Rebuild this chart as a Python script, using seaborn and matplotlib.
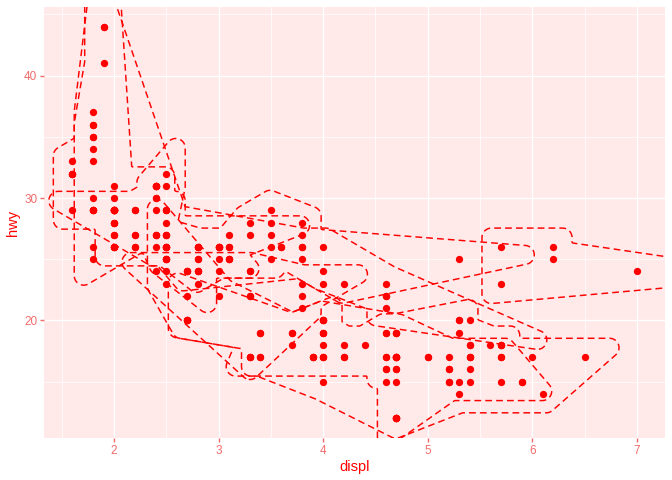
import numpy as np
import pandas as pd
import matplotlib
matplotlib.use("Agg")
import matplotlib.pyplot as plt
import seaborn as sns
from matplotlib.path import Path
from collections import deque

# ---------------- data: mpg rows (displ, hwy) by class ----------------
twoseater_displ = [5.7, 5.7, 6.2, 6.2, 7.0]
twoseater_hwy = [26, 23, 26, 25, 24]

compact_displ = [1.8, 1.8, 2.0, 2.0, 2.8, 2.8, 3.1,
                 1.8, 1.8, 2.0, 2.0, 2.8, 2.8, 3.1, 3.1,
                 2.4, 2.4,
                 2.5, 2.5, 2.5, 2.5,
                 2.2, 2.2, 2.4, 2.4, 3.0, 3.0, 3.3,
                 1.8, 1.8, 1.8, 1.8, 1.8,
                 2.0, 2.0, 2.0, 2.0, 2.8,
                 1.9, 2.0, 2.0, 2.0, 2.0, 2.5, 2.5, 2.8, 2.8]
compact_hwy = [29, 29, 31, 30, 26, 26, 27,
               26, 25, 28, 27, 25, 25, 25, 25,
               29, 27,
               25, 27, 25, 27,
               27, 29, 31, 31, 26, 26, 27,
               30, 33, 35, 37, 35,
               29, 26, 29, 29, 24,
               44, 29, 26, 29, 29, 29, 29, 23, 24]

midsize_displ = [2.8, 3.1, 4.2,
                 2.4, 2.4, 3.1, 3.5, 3.6,
                 2.4, 2.4, 2.4, 2.4, 2.5, 2.5, 3.3,
                 2.5, 2.5, 3.5, 3.5,
                 3.0, 3.0, 3.5,
                 3.1, 3.8, 3.8, 3.8, 5.3,
                 2.2, 2.2, 2.4, 2.4, 3.0, 3.0, 3.5,
                 1.8, 1.8, 2.0, 2.0, 2.8, 2.8, 3.6]
midsize_hwy = [24, 25, 23,
               27, 30, 26, 29, 26,
               26, 27, 30, 31, 26, 26, 28,
               31, 32, 27, 26,
               26, 25, 25,
               26, 26, 27, 28, 25,
               29, 27, 31, 31, 26, 26, 28,
               29, 29, 28, 29, 26, 26, 26]

minivan_displ = [2.4, 3.0, 3.3, 3.3, 3.3, 3.3, 3.3, 3.8, 3.8, 3.8, 4.0]
minivan_hwy = [24, 24, 22, 22, 24, 24, 17, 22, 21, 23, 23]

pickup_displ = [3.7, 3.7, 3.9, 3.9, 4.7, 4.7, 4.7, 5.2, 5.2,
                4.7, 4.7, 4.7, 4.7, 4.7, 4.7, 5.2, 5.2, 5.7, 5.9,
                4.2, 4.2, 4.6, 4.6, 4.6, 5.4, 5.4,
                2.7, 2.7, 2.7, 3.4, 3.4, 4.0, 4.0]
pickup_hwy = [19, 18, 17, 17, 19, 19, 12, 17, 15,
              16, 12, 17, 17, 16, 12, 15, 16, 17, 15,
              17, 17, 16, 16, 17, 15, 17,
              20, 20, 22, 17, 19, 18, 20]

subcompact_displ = [1.6, 1.6, 1.6, 1.6, 1.6, 1.8, 1.8, 1.8, 2.0,
                    2.0, 2.0, 2.0, 2.0, 2.7, 2.7, 2.7,
                    3.8, 3.8, 4.0, 4.0, 4.6, 4.6, 4.6, 4.6, 5.4,
                    1.9, 1.9, 2.0, 2.0, 2.5, 2.5,
                    2.2, 2.2, 2.5, 2.5]
subcompact_hwy = [33, 32, 32, 29, 32, 34, 36, 36, 29,
                  29, 26, 28, 27, 24, 24, 24,
                  26, 25, 26, 24, 21, 22, 23, 22, 20,
                  44, 41, 29, 26, 28, 29,
                  26, 26, 26, 26]

suv_displ = [5.3, 5.3, 5.3, 5.7, 6.0,
             5.3, 5.3, 5.7, 6.5,
             3.9, 4.7, 4.7, 4.7, 5.2, 5.7, 5.9,
             4.6, 5.4, 5.4,
             4.0, 4.0, 4.0, 4.0, 4.6, 5.0,
             3.0, 3.7, 4.0, 4.7, 4.7, 4.7, 5.7, 6.1,
             4.0, 4.2, 4.4, 4.6,
             5.4, 5.4, 5.4,
             4.0, 4.0, 4.6, 5.0,
             3.3, 3.3, 4.0, 5.6,
             2.5, 2.5, 2.5, 2.5, 2.5, 2.5,
             2.7, 2.7, 3.4, 3.4, 4.0, 4.7,
             4.7, 5.7]
suv_hwy = [20, 15, 20, 17, 17,
           19, 14, 15, 17,
           17, 17, 12, 17, 16, 18, 15,
           17, 17, 18,
           17, 19, 19, 17, 19, 17,
           22, 19, 20, 17, 12, 19, 18, 14,
           15, 18, 18, 15,
           17, 16, 18,
           17, 19, 19, 17,
           17, 17, 20, 18,
           25, 24, 27, 25, 26, 23,
           20, 20, 19, 17, 20, 17,
           15, 18]

class_names = ["2seater", "compact", "midsize", "minivan", "pickup", "subcompact", "suv"]
class_displ = [twoseater_displ, compact_displ, midsize_displ, minivan_displ,
               pickup_displ, subcompact_displ, suv_displ]
class_hwy = [twoseater_hwy, compact_hwy, midsize_hwy, minivan_hwy,
             pickup_hwy, subcompact_hwy, suv_hwy]

x_ticks = [2, 3, 4, 5, 6, 7]
x_tick_labels = ["2", "3", "4", "5", "6", "7"]
y_ticks = [20, 30, 40]
y_tick_labels = ["20", "30", "40"]

df = pd.concat([pd.DataFrame({"displ": d, "hwy": h, "class": c})
                for c, d, h in zip(class_names, class_displ, class_hwy)],
               ignore_index=True)

# ---------------- style ----------------
RED = "#FF0000"
TICK_COL = "#F26B6B"
PANEL = "#FFE9E9"
plt.rcParams["font.family"] = ["Liberation Sans", "DejaVu Sans"]
plt.rcParams["lines.dashed_pattern"] = [4.6, 2.8]

W_PX, H_PX = 672, 480
L_PX, R_PX, T_PX, B_PX = 44, 665, 7, 438
fig = plt.figure(figsize=(W_PX / 96, H_PX / 96), dpi=96)
ax = fig.add_axes([L_PX / W_PX, (H_PX - B_PX) / H_PX,
                   (R_PX - L_PX) / W_PX, (B_PX - T_PX) / H_PX])

xr = df["displ"].max() - df["displ"].min()
yr = df["hwy"].max() - df["hwy"].min()
XMIN, XMAX = df["displ"].min() - 0.05 * xr, df["displ"].max() + 0.05 * xr
YMIN, YMAX = df["hwy"].min() - 0.05 * yr, df["hwy"].max() + 0.05 * yr

PW_MM = (R_PX - L_PX) / 96 * 25.4
PH_MM = (B_PX - T_PX) / 96 * 25.4
SX = PW_MM / (XMAX - XMIN)
SY = PH_MM / (YMAX - YMIN)


# ---------------- concave hull (concaveman algorithm) ----------------
def convex_hull_cw(P):
    idx = sorted(range(len(P)), key=lambda i: (P[i][0], P[i][1]))

    def cr(o, a, b):
        return (P[a][0] - P[o][0]) * (P[b][1] - P[o][1]) - (P[a][1] - P[o][1]) * (P[b][0] - P[o][0])
    lower = []
    for i in idx:
        while len(lower) >= 2 and cr(lower[-2], lower[-1], i) <= 0:
            lower.pop()
        lower.append(i)
    upper = []
    for i in reversed(idx):
        while len(upper) >= 2 and cr(upper[-2], upper[-1], i) <= 0:
            upper.pop()
        upper.append(i)
    hull = lower[:-1] + upper[:-1]
    return hull[::-1]


def orient(p1, p2, p3):
    return (p2[1] - p1[1]) * (p3[0] - p2[0]) - (p2[0] - p1[0]) * (p3[1] - p2[1])


def concave_hull(P, concavity=2.0):
    n = len(P)
    hull = convex_hull_cw(P)
    nxt, prv = {}, {}
    m = len(hull)
    for k, i in enumerate(hull):
        nxt[i] = hull[(k + 1) % m]
        prv[i] = hull[(k - 1) % m]
    hs = set(hull)
    remaining = [i for i in range(n) if i not in hs]

    def sqd(a, b):
        return (P[a][0] - P[b][0]) ** 2 + (P[a][1] - P[b][1]) ** 2

    def sqseg(p, a, b):
        x, y = P[a]
        dx, dy = P[b][0] - x, P[b][1] - y
        if dx != 0 or dy != 0:
            t = ((P[p][0] - x) * dx + (P[p][1] - y) * dy) / (dx * dx + dy * dy)
            if t > 1:
                x, y = P[b]
            elif t > 0:
                x += dx * t
                y += dy * t
        dx, dy = P[p][0] - x, P[p][1] - y
        return dx * dx + dy * dy

    def no_inter(u, v):
        ux0, ux1 = sorted((P[u][0], P[v][0]))
        uy0, uy1 = sorted((P[u][1], P[v][1]))
        for s in list(nxt.keys()):
            t = nxt[s]
            sx0, sx1 = sorted((P[s][0], P[t][0]))
            sy0, sy1 = sorted((P[s][1], P[t][1]))
            if sx1 < ux0 or sx0 > ux1 or sy1 < uy0 or sy0 > uy1:
                continue
            if s == v or t == u:
                continue
            if ((orient(P[s], P[t], P[u]) > 0) != (orient(P[s], P[t], P[v]) > 0)) and \
               ((orient(P[u], P[v], P[s]) > 0) != (orient(P[u], P[v], P[t]) > 0)):
                return False
        return True

    def find_candidate(a, b, c, d, max_d):
        cands = []
        for i in remaining:
            dist = sqseg(i, b, c)
            if dist <= max_d:
                cands.append((dist, i))
        cands.sort()
        for dist, i in cands:
            d0 = sqseg(i, a, b)
            d1 = sqseg(i, c, d)
            if dist < d0 and dist < d1 and no_inter(b, i) and no_inter(c, i):
                return i
        return None

    queue = deque(hull)
    sqc = concavity * concavity
    while queue:
        a = queue.popleft()
        b = nxt[a]
        max_sq = sqd(a, b) / sqc
        p = find_candidate(prv[a], a, b, nxt[b], max_sq)
        if p is not None and min(sqd(p, a), sqd(p, b)) <= max_sq:
            queue.append(a)
            nxt[a] = p
            prv[p] = a
            nxt[p] = b
            prv[b] = p
            queue.append(p)
            remaining.remove(p)
    out = [hull[0]]
    cur = nxt[hull[0]]
    while cur != hull[0]:
        out.append(cur)
        cur = nxt[cur]
    return out


# ---------------- offset: miter expand then round radius, via distance field ----------------
EXPAND, RADIUS = 5.0, 2.5
E = EXPAND - RADIUS
H = 0.3
gx = np.arange(-14.0, PW_MM + 14.0, H)
gy = np.arange(-14.0, PH_MM + 14.0, H)
GX, GY = np.meshgrid(gx, gy)
MARGIN = RADIUS + 2.5


def segdist(PX, PY, A, B):
    dx, dy = B[0] - A[0], B[1] - A[1]
    L2 = dx * dx + dy * dy
    if L2 == 0:
        return np.hypot(PX - A[0], PY - A[1])
    t = np.clip(((PX - A[0]) * dx + (PY - A[1]) * dy) / L2, 0, 1)
    return np.hypot(PX - (A[0] + t * dx), PY - (A[1] + t * dy))


def quad_into_field(Q, field):
    Q = np.asarray(Q, float)
    area = 0.5 * np.sum(Q[:, 0] * np.roll(Q[:, 1], -1) - np.roll(Q[:, 0], -1) * Q[:, 1])
    if abs(area) < 1e-12:
        return
    if area < 0:
        Q = Q[::-1]
    x0, x1 = Q[:, 0].min() - MARGIN, Q[:, 0].max() + MARGIN
    y0, y1 = Q[:, 1].min() - MARGIN, Q[:, 1].max() + MARGIN
    i0 = max(0, np.searchsorted(gx, x0) - 1)
    i1 = min(len(gx), np.searchsorted(gx, x1) + 1)
    j0 = max(0, np.searchsorted(gy, y0) - 1)
    j1 = min(len(gy), np.searchsorted(gy, y1) + 1)
    if i0 >= i1 or j0 >= j1:
        return
    PX = GX[j0:j1, i0:i1]
    PY = GY[j0:j1, i0:i1]
    inside = np.ones(PX.shape, bool)
    dmin = np.full(PX.shape, np.inf)
    for k in range(len(Q)):
        A, B = Q[k], Q[(k + 1) % len(Q)]
        crs = (B[0] - A[0]) * (PY - A[1]) - (B[1] - A[1]) * (PX - A[0])
        inside &= crs >= 0
        dmin = np.minimum(dmin, segdist(PX, PY, A, B))
    d = np.where(inside, 0.0, dmin)
    field[j0:j1, i0:i1] = np.minimum(field[j0:j1, i0:i1], d)


def hull_field(poly):
    area = 0.5 * np.sum(poly[:, 0] * np.roll(poly[:, 1], -1) - np.roll(poly[:, 0], -1) * poly[:, 1])
    if area < 0:
        poly = poly[::-1]
    m = len(poly)
    field = np.full(GX.shape, RADIUS + 2.0)
    inside = Path(poly).contains_points(np.column_stack([GX.ravel(), GY.ravel()])).reshape(GX.shape)
    field[inside] = 0.0
    normals = []
    for k in range(m):
        a, b = poly[k], poly[(k + 1) % m]
        d = b - a
        L = np.hypot(*d)
        u = d / L
        nrm = np.array([u[1], -u[0]])
        normals.append(nrm)
        quad_into_field([a, b, b + E * nrm, a + E * nrm], field)
    for k in range(m):
        prev, b, nx = poly[k - 1], poly[k], poly[(k + 1) % m]
        d1, d2 = b - prev, nx - b
        cr = d1[0] * d2[1] - d1[1] * d2[0]
        n1, n2 = normals[k - 1], normals[k]
        if cr <= 1e-12:
            continue
        c = float(n1 @ n2)
        if 1 + c < 1e-9:
            continue
        mv = (n1 + n2) / (1 + c)
        ml = np.hypot(*mv)
        if ml > 1000:
            mv = mv / ml * 1000
        quad_into_field([b, b + E * n1, b + E * mv, b + E * n2], field)
    return field


# ---------------- draw ----------------
ax.set_facecolor(PANEL)
for sp in ax.spines.values():
    sp.set_visible(False)

sns.scatterplot(data=df, x="displ", y="hwy", color=RED, s=30, linewidth=0,
                ax=ax, zorder=3, legend=False)

XD = XMIN + gx / SX
YD = YMIN + gy / SY
for c, dsp, hw in zip(class_names, class_displ, class_hwy):
    pts = sorted(set(zip(dsp, hw)))
    P_npc = [((x - XMIN) / (XMAX - XMIN), (y - YMIN) / (YMAX - YMIN)) for x, y in pts]
    order = concave_hull(P_npc, 2.0)
    poly = np.array([((pts[i][0] - XMIN) * SX, (pts[i][1] - YMIN) * SY) for i in order])
    fld = hull_field(poly)
    ax.contour(XD, YD, fld, levels=[RADIUS], colors=RED, linewidths=1.1,
               linestyles="dashed", zorder=4)

ax.set_xlim(XMIN, XMAX)
ax.set_ylim(YMIN, YMAX)
ax.set_xticks(x_ticks)
ax.set_xticklabels(x_tick_labels)
ax.set_yticks(y_ticks)
ax.set_yticklabels(y_tick_labels)
ax.set_xticks([1.5, 2.5, 3.5, 4.5, 5.5, 6.5], minor=True)
ax.set_yticks([15, 25, 35, 45], minor=True)
ax.grid(True, which="major", color="white", linewidth=1.07)
ax.grid(True, which="minor", color="white", linewidth=0.53)
ax.set_axisbelow(True)
ax.tick_params(which="major", length=2.75, width=1.07, color=TICK_COL,
               labelcolor=TICK_COL, labelsize=8.8, pad=2.2)
ax.tick_params(which="minor", length=0)
ax.set_xlabel("displ", color=RED, fontsize=11, labelpad=2.75)
ax.set_ylabel("hwy", color=RED, fontsize=11, labelpad=2.75)

fig.savefig("out.png", dpi=96, facecolor="white")
